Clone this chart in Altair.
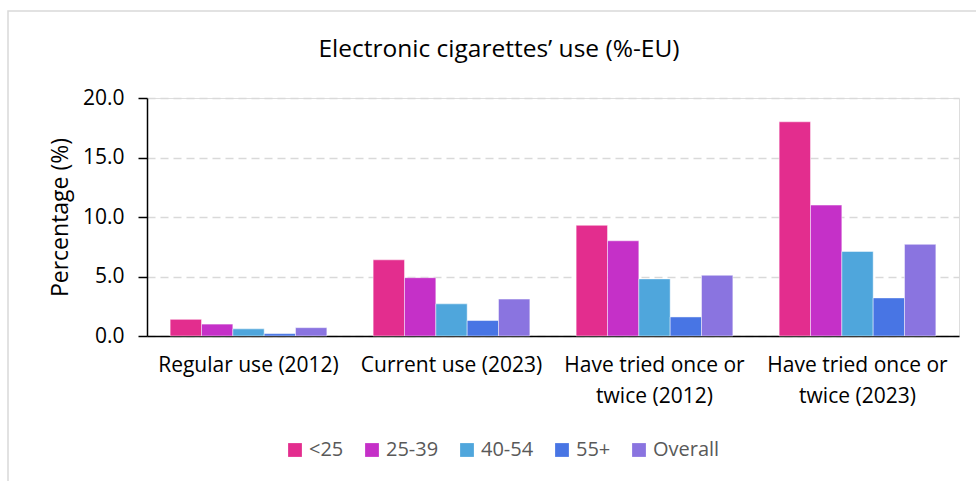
import altair as alt
import pandas as pd

# Survey categories shown along the x axis
categories = [
    "Regular use (2012)",
    "Current use (2023)",
    "Have tried once or twice (2012)",
    "Have tried once or twice (2023)",
]
# Age groups (series)
groups = ["<25", "25-39", "40-54", "55+", "Overall"]
colors = ["#E32D8E", "#C530C8", "#4FA6DC", "#4875E4", "#8A74E0"]

# Percentages per age group, in category order
under_25 = [1.4, 6.4, 9.3, 18.0]
age_25_39 = [1.0, 4.9, 8.0, 11.0]
age_40_54 = [0.6, 2.7, 4.8, 7.1]
age_55_plus = [0.2, 1.3, 1.6, 3.2]
overall = [0.7, 3.1, 5.1, 7.7]

series = [under_25, age_25_39, age_40_54, age_55_plus, overall]
rows = []
for g, vals in zip(groups, series):
    for c, v in zip(categories, vals):
        rows.append({"category": c, "group": g, "value": v})
df = pd.DataFrame(rows)

FONT = "Open Sans"

label_expr = (
    "indexof(datum.label, 'Have tried') == 0 ? "
    "['Have tried once or', substring(datum.label, 19)] : datum.label"
)

bars = alt.Chart(df).mark_bar(
    stroke="white", strokeWidth=1, strokeOpacity=0.45
).encode(
    x=alt.X(
        "category:N",
        sort=categories,
        scale=alt.Scale(paddingInner=0.228, paddingOuter=0.114),
        axis=alt.Axis(
            title=None,
            labelAngle=0,
            labelExpr=label_expr,
            labelFont=FONT,
            labelFontSize=21,
            labelColor="#000000",
            labelPadding=18,
            labelLineHeight=31,
            labelLimit=400,
            ticks=False,
            domainColor="#000000",
            domainWidth=1.5,
            grid=False,
        ),
    ),
    xOffset=alt.XOffset("group:N", sort=groups, scale=alt.Scale(paddingInner=0)),
    y=alt.Y(
        "value:Q",
        scale=alt.Scale(domain=[0, 20]),
        axis=alt.Axis(
            title="Percentage (%)",
            titleFont=FONT,
            titleFontSize=23,
            titleFontWeight="normal",
            titleColor="#000000",
            titlePadding=10,
            values=[0, 5, 10, 15, 20],
            format=".1f",
            labelFont=FONT,
            labelFontSize=21,
            labelColor="#000000",
            labelPadding=14,
            tickSize=9,
            tickColor="#000000",
            tickWidth=1.5,
            domainColor="#000000",
            domainWidth=1.5,
            grid=True,
            gridColor="#D9D9D9",
            gridDash=[8, 5],
            gridWidth=1.3,
        ),
    ),
    color=alt.Color(
        "group:N",
        sort=groups,
        scale=alt.Scale(domain=groups, range=colors),
        legend=alt.Legend(
            title=None,
            orient="none",
            direction="horizontal",
            legendX=138,
            legendY=342,
            symbolType="square",
            symbolSize=190,
            symbolStrokeWidth=0,
            labelFont=FONT,
            labelFontSize=20,
            labelColor="#595959",
            columnPadding=18,
            labelOffset=4,
        ),
    ),
)

# Outer frame around the chart
frame = alt.Chart(alt.Data(values=[{}])).mark_rect(
    fill=None, stroke="#D9D9D9", strokeWidth=1.5
).encode(
    x=alt.value(-139), x2=alt.value(840), y=alt.value(-87), y2=alt.value(420)
)

chart = alt.layer(frame, bars).properties(
    width=812,
    height=238,
    padding={"left": 147, "top": 98, "right": 17, "bottom": 145},
    autosize=alt.AutoSizeParams(type="none"),
    title=alt.TitleParams(
        "Electronic cigarettes\u2019 use (%-EU)",
        font=FONT,
        fontSize=24.5,
        fontWeight="normal",
        color="#000000",
        anchor="middle",
        baseline="alphabetic",
        dx=-54,
        offset=-71,
    ),
).configure_view(stroke=None).configure(background="white")

chart.save("out.html", embed_options={"renderer": "svg", "actions": False})
